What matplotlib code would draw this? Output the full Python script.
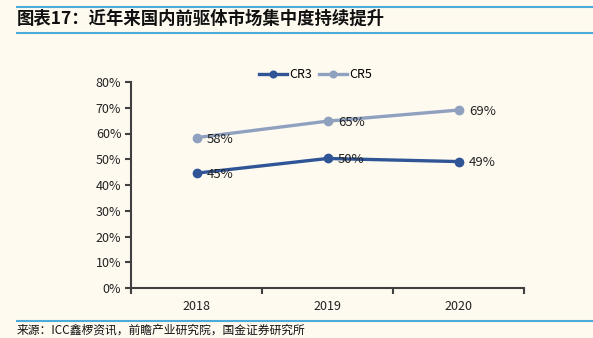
import matplotlib.pyplot as plt
from matplotlib.lines import Line2D

plt.rcParams['font.family'] = ['Noto Sans CJK SC', 'DejaVu Sans']

# 数据
years = ['2018', '2019', '2020']
cr3 = [44.6, 50.3, 49.1]
cr5 = [58.4, 64.8, 69.1]
cr3_labels = ['45%', '50%', '49%']
cr5_labels = ['58%', '65%', '69%']
yticks = [0, 10, 20, 30, 40, 50, 60, 70, 80]

bg = '#FEFAF0'
c3 = '#2F5597'
c5 = '#8FA1BF'
spine = '#404040'
blue = '#4BACD9'

fig = plt.figure(figsize=(5.93, 3.38), dpi=100, facecolor=bg)
ax = fig.add_axes([131/593, 50/338, 393/593, 206/338], facecolor=bg)

x = range(len(years))
ax.plot(x, cr3, color=c3, lw=2.4, marker='o', ms=6, label='CR3')
ax.plot(x, cr5, color=c5, lw=2.4, marker='o', ms=6, label='CR5')

# 数据标签
for i in x:
    ax.annotate(cr3_labels[i], (i, cr3[i]), xytext=(7.5, -1), textcoords='offset points',
                ha='left', va='center', fontsize=9.5, color='#222222')
    ax.annotate(cr5_labels[i], (i, cr5[i]), xytext=(7.5, -1), textcoords='offset points',
                ha='left', va='center', fontsize=9.5, color='#222222')

ax.set_xlim(-0.5, 2.5)
ax.set_ylim(0, 80)
ax.set_yticks(yticks)
ax.set_yticklabels([f'{v}%' for v in yticks], fontsize=9, color='#222222')
ax.set_xticks(list(x))
ax.set_xticklabels(years, fontsize=9, color='#222222')
ax.tick_params(axis='x', length=0, pad=9)
ax.set_xticks([-0.5, 0.5, 1.5, 2.5], minor=True)
ax.tick_params(axis='x', which='minor', length=4, width=1.5, color=spine)
ax.tick_params(axis='y', length=4, width=1.5, color=spine, pad=3)

for s in ['top', 'right']:
    ax.spines[s].set_visible(False)
for s in ['left', 'bottom']:
    ax.spines[s].set_color(spine)
    ax.spines[s].set_linewidth(1.5)

ax.legend(loc='lower center', bbox_to_anchor=(0.47, 0.95), ncol=2, frameon=False,
          fontsize=9, handlelength=2.2, columnspacing=0.6, handletextpad=0.2,
          markerscale=0.8)

# 标题和来源
fig.add_artist(Line2D([17/593, 1], [1 - 6.5/338] * 2, color=blue, lw=1.5))
fig.add_artist(Line2D([17/593, 1], [1 - 32.5/338] * 2, color=blue, lw=1.5))
fig.add_artist(Line2D([17/593, 1], [1 - 321/338] * 2, color=blue, lw=1.5))
fig.text(17/593, 1 - 19/338, '图表17：近年来国内前驱体市场集中度持续提升', fontsize=12.5,
         fontweight='bold', ha='left', va='center', color='#111111')
fig.text(17/593, 1 - 330/338, '来源：ICC鑫椤资讯，前瞻产业研究院，国金证券研究所', fontsize=8.5,
         ha='left', va='center', color='#111111')

fig.savefig('out.png', dpi=100, facecolor=bg)
